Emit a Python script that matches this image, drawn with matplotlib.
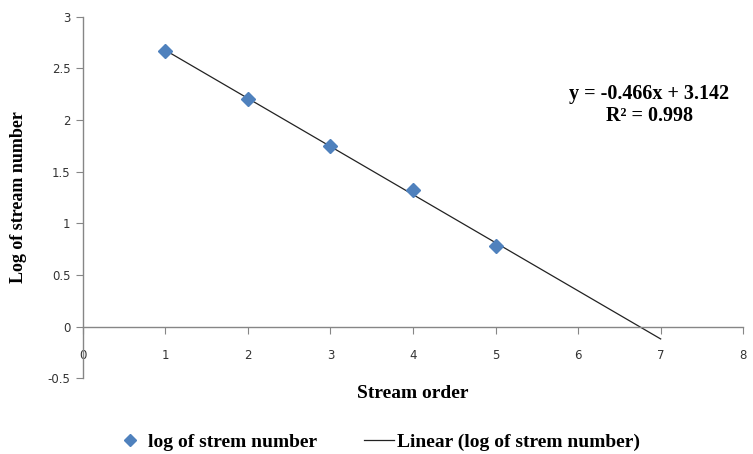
import matplotlib.pyplot as plt
import numpy as np

stream_order = [1, 2, 3, 4, 5]
log_stream_number = [2.67, 2.20, 1.75, 1.32, 0.78]
slope = -0.466
intercept = 3.142
r_squared = 0.998
trend_end = 7

fig = plt.figure(figsize=(7.53, 4.54), dpi=100)
ax = fig.add_axes([0.110, 0.167, 0.877, 0.796])

serif = 'Liberation Serif'
axis_grey = '#868686'

ax.plot(stream_order, log_stream_number, 'D', color='#4F81BD', markersize=7,
        label='log of strem number', zorder=3)
xs = np.array([stream_order[0], trend_end])
ax.plot(xs, slope * xs + intercept, '-', color='#222222', linewidth=0.9,
        label='Linear (log of strem number)', zorder=2)

ax.set_xlim(0, 8)
ax.set_ylim(-0.5, 3)
ax.set_xticks(range(0, 9))
ax.set_yticks(np.arange(-0.5, 3.01, 0.5))
ax.set_yticklabels(['-0.5', '0', '0.5', '1', '1.5', '2', '2.5', '3'])

ax.spines['top'].set_visible(False)
ax.spines['right'].set_visible(False)
ax.spines['bottom'].set_position(('data', 0))
for s in ('left', 'bottom'):
    ax.spines[s].set_color(axis_grey)
    ax.spines[s].set_linewidth(1)

ax.tick_params(axis='y', direction='out', length=5, color=axis_grey,
               labelsize=8.5, labelcolor='#333333', pad=4)
ax.tick_params(axis='x', direction='out', length=5, color=axis_grey,
               labelsize=8.5, labelcolor='#333333', pad=11)

ax.set_ylabel('Log of stream number', family=serif, fontweight='bold',
              fontsize=13, labelpad=15)
ax.set_xlabel('Stream order', family=serif, fontweight='bold', fontsize=14,
              labelpad=17)

ax.text(6.86, 2.145, f'y = {slope}x + {intercept}\nR² = {r_squared}',
        family=serif, fontweight='bold', fontsize=14.5, ha='center',
        va='center', linespacing=1.15)

fig.legend(loc='lower center', bbox_to_anchor=(0.501, -0.032), ncol=2,
           frameon=False, handlelength=1.55, handletextpad=0.15,
           columnspacing=2.4,
           prop={'family': serif, 'weight': 'bold', 'size': 14},
           markerscale=0.85)

fig.savefig('out.png', dpi=100)
